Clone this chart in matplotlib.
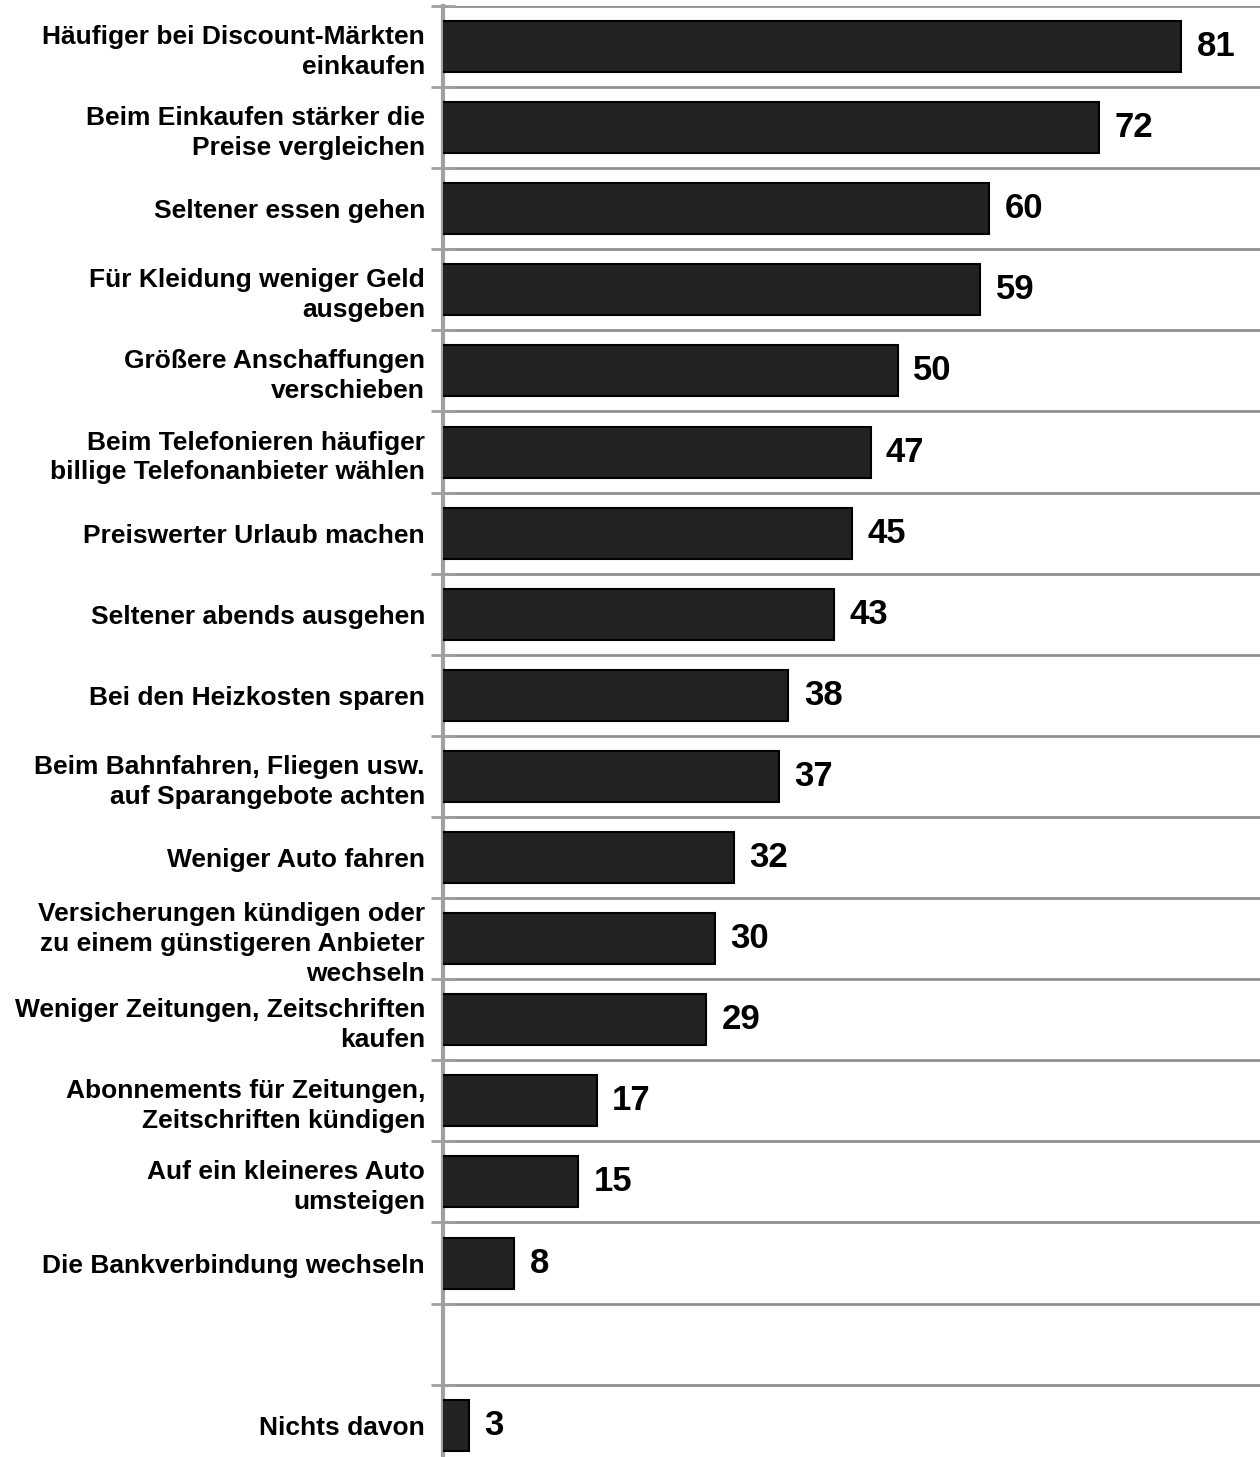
import numpy as np
import matplotlib
matplotlib.use("Agg")
import matplotlib.pyplot as plt

plt.rcParams['font.family'] = ['Liberation Sans', 'DejaVu Sans']

# Kategorien (von oben nach unten), None = leere Zeile
labels = [
    "Häufiger bei Discount-Märkten\neinkaufen",
    "Beim Einkaufen stärker die\nPreise vergleichen",
    "Seltener essen gehen",
    "Für Kleidung weniger Geld\nausgeben",
    "Größere Anschaffungen\nverschieben",
    "Beim Telefonieren häufiger\nbillige Telefonanbieter wählen",
    "Preiswerter Urlaub machen",
    "Seltener abends ausgehen",
    "Bei den Heizkosten sparen",
    "Beim Bahnfahren, Fliegen usw.\nauf Sparangebote achten",
    "Weniger Auto fahren",
    "Versicherungen kündigen oder\nzu einem günstigeren Anbieter\nwechseln",
    "Weniger Zeitungen, Zeitschriften\nkaufen",
    "Abonnements für Zeitungen,\nZeitschriften kündigen",
    "Auf ein kleineres Auto\numsteigen",
    "Die Bankverbindung wechseln",
    None,
    "Nichts davon",
]
values = [81, 72, 60, 59, 50, 47, 45, 43, 38, 37, 32, 30, 29, 17, 15, 8, None, 3]

W, H = 1260, 1457
fig = plt.figure(figsize=(W / 100, H / 100), dpi=100)
top = 6
slot = 81.1
n = len(labels)
bottom = top + n * slot
ax = fig.add_axes([443 / W, 1 - bottom / H, 1 - 443 / W, (bottom - top) / H])

pos = [i for i, v in enumerate(values) if v is not None]
vals = [values[i] for i in pos]
ax.barh(pos, vals, height=0.63, color="#222222", edgecolor="black", linewidth=1.5, zorder=3)

for p, v in zip(pos, vals):
    ax.annotate(str(v), (v, p), xytext=(11, 0), textcoords="offset points",
                va="center", ha="left", fontsize=25, fontweight="bold", color="black")

ax.set_xlim(0.2, 89.6)
ax.set_ylim(n - 0.5, -0.5)

ax.set_yticks(pos)
ax.set_yticklabels([labels[i] for i in pos], fontsize=19, fontweight="bold",
                   linespacing=1.3)
ax.tick_params(axis="y", which="major", length=0, pad=13)
ax.set_yticks(np.arange(-0.5, n, 1.0), minor=True)
ax.tick_params(axis="y", which="minor", direction="inout", length=17, width=2, color="#a0a0a0")
ax.grid(axis="y", which="minor", color="#909090", linewidth=2, zorder=0)
ax.set_xticks([])

for s in ["top", "right", "bottom"]:
    ax.spines[s].set_visible(False)
ax.spines["left"].set_color("#a0a0a0")
ax.spines["left"].set_linewidth(3)

fig.savefig("out.png", dpi=100)
